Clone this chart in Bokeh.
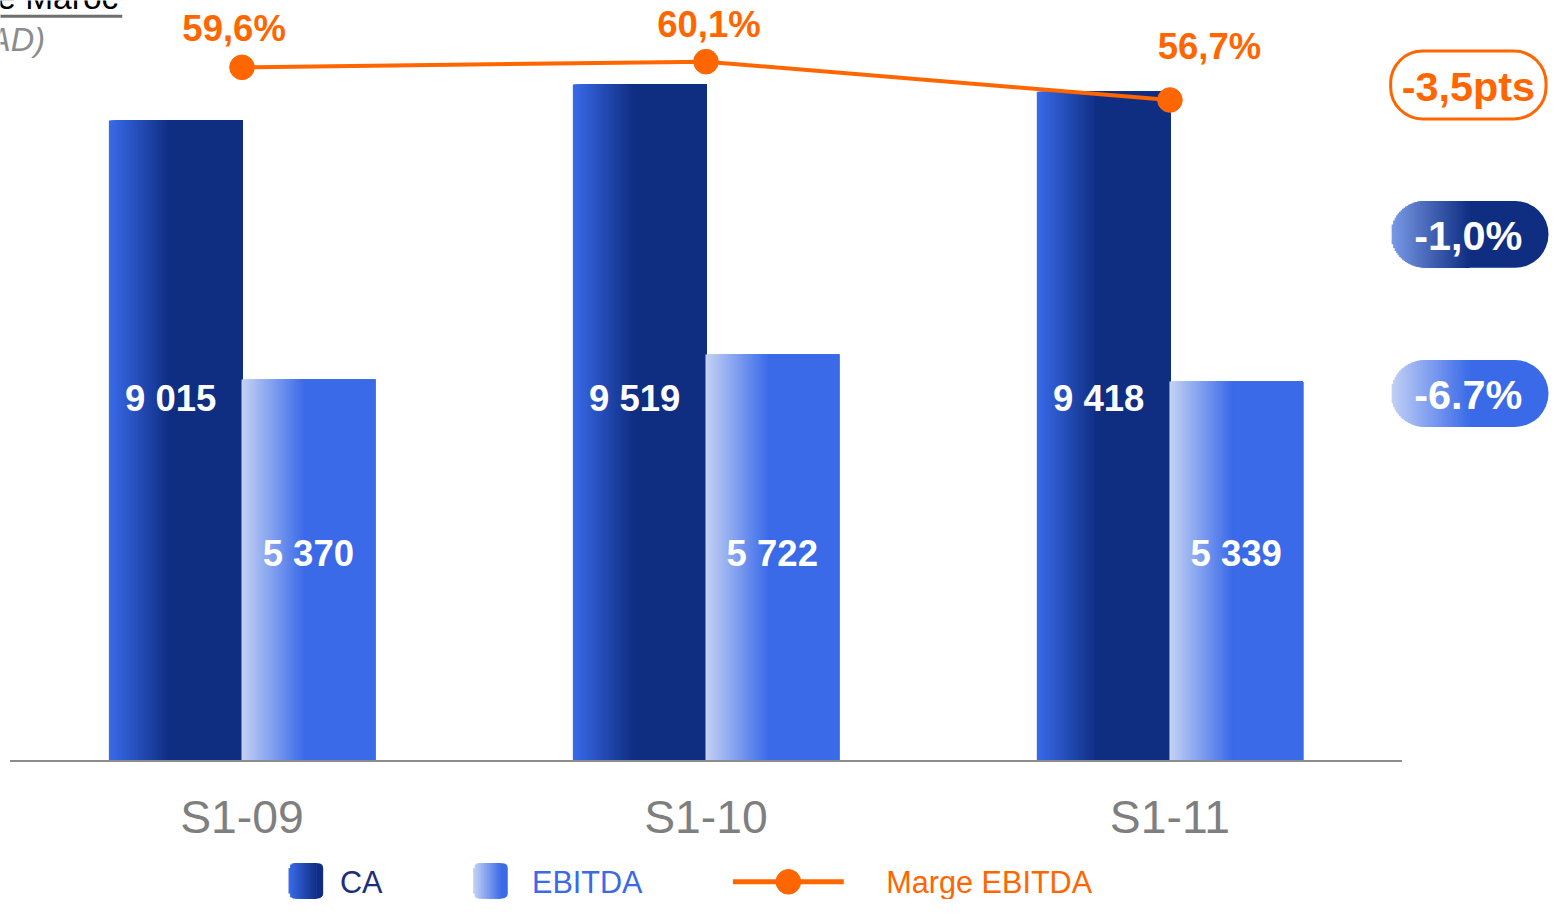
import math
from bokeh.plotting import figure
from bokeh.models import Range1d
from bokeh.core.properties import value
from bokeh.embed import file_html
from bokeh.resources import INLINE

# ---------------- data ----------------
categories = ["S1-09", "S1-10", "S1-11"]
ca = [9015, 9519, 9418]
ebitda = [5370, 5722, 5339]
marge = [59.6, 60.1, 56.7]
ca_labels = ["9 015", "9 519", "9 418"]
ebitda_labels = ["5 370", "5 722", "5 339"]
marge_labels = ["59,6%", "60,1%", "56,7%"]
badge_labels = ["-3,5pts", "-1,0%", "-6.7%"]
legend_labels = ["CA", "EBITDA", "Marge EBITDA"]
title_text = "Mobile Maroc"
unit_text = "(en millions de MAD)"

# ---------------- style ----------------
ORANGE = "#ff6600"
NAVY = "#0f2e82"
BLUE = "#3a6ae8"
LIGHT = "#c3d1f5"
MID = "#7a9ae8"
GRAY = "#7f7f7f"
FONT = value("Liberation Sans")

REF_W, REF_H = 1565, 915
W, H = 1549, 899
SX, SY = W / REF_W, H / REF_H
S = (SX + SY) / 2
PX_PER_CAT = 468.75     # reference px per category
PX_PER_VAL = 0.07232    # reference px per value unit
PCT_PX = 11.47          # reference px per margin point


def X(rx):
    return (rx - 244) / PX_PER_CAT


def Y(ry):
    return (774 - ry) / PX_PER_VAL


def fs(px):
    return "%.1fpx" % (px * S)


def hexrgb(c):
    c = c.lstrip("#")
    return tuple(int(c[i:i + 2], 16) for i in (0, 2, 4))


def mix(c0, c1, t):
    t = max(0.0, min(1.0, t))
    a, b = hexrgb(c0), hexrgb(c1)
    return "#%02x%02x%02x" % tuple(int(round(a[i] + (b[i] - a[i]) * t)) for i in range(3))


p = figure(width=W, height=H, output_backend="svg", toolbar_location=None,
           x_range=Range1d(X(0), X(REF_W)), y_range=Range1d(Y(REF_H), Y(0)),
           x_axis_type=None, y_axis_type=None, min_border=0,
           outline_line_color=None, background_fill_color="white")
p.grid.visible = False
p.extra_y_ranges = {"pct": Range1d(59.6 - (REF_H - 68) / PCT_PX, 59.6 + 68 / PCT_PX)}


def grad_bars(xc_list, tops, width, c0, c1, frac, n=45):
    xs, ws, ts, cols = [], [], [], []
    for xc, top in zip(xc_list, tops):
        left = xc - width / 2
        right = xc + width / 2
        gw = width * frac
        for i in range(n + 1):
            xi = left + gw * i / n
            xs.append((xi + right) / 2)
            ws.append(right - xi)
            ts.append(top)
            cols.append(mix(c0, c1, i / n))
    p.vbar(x=xs, width=ws, top=ts, bottom=0, fill_color=cols, line_color=None)


def pill(cx, cy, w, h, r, c0, c1, frac):
    """Gradient rounded box (reference px): solid right part + nested gradient strips."""
    left, right = cx - w / 2, cx + w / 2
    gw = w * frac
    rr = int(round(r * S))
    # solid right part with rounded right corners
    x0 = left + gw - 0.5
    p.rect(x=[X((x0 + right) / 2)], y=[Y(cy)], width=(right - x0) * SX, height=h * SY,
           width_units="screen", height_units="screen", fill_color=c1, line_color=None,
           border_radius=(0, rr, rr, 0))

    def hgt(d):
        if d < r:
            return h - 2 * (r - math.sqrt(max(r * r - (r - d) ** 2, 0)))
        return h

    n = max(int(gw / 1.5), 8)
    xs, ws, hs, cols = [], [], [], []
    for i in range(n + 1):
        xi = left + gw * i / n
        xe = left + gw
        if xe - xi < 0.6:
            continue
        xs.append(X((xi + xe) / 2))
        ws.append((xe - xi) * SX)
        hs.append(hgt(xi - left) * SY)
        cols.append(mix(c0, c1, i / n))
    p.rect(x=xs, y=[Y(cy)] * len(xs), width=ws, height=hs,
           width_units="screen", height_units="screen", fill_color=cols, line_color=None)


idx = list(range(len(categories)))
off = 67 / PX_PER_CAT
bw = 135 / PX_PER_CAT

# bars
grad_bars([i - off for i in idx], ca, bw, BLUE, NAVY, 0.45)
grad_bars([i + off for i in idx], ebitda, bw, LIGHT, BLUE, 0.47)

# baseline
p.segment(x0=[-0.5], y0=[0], x1=[2.5], y1=[0], line_color="#8c8c8c", line_width=2)

# bar value labels
p.text(x=[i - off - 5 / PX_PER_CAT for i in idx], y=[Y(405)] * 3, text=ca_labels,
       text_font=FONT, text_font_style="bold", text_font_size=fs(37),
       text_color="white", text_align="center", text_baseline="middle")
p.text(x=[i + off for i in idx], y=[Y(563)] * 3, text=ebitda_labels,
       text_font=FONT, text_font_style="bold", text_font_size=fs(37),
       text_color="white", text_align="center", text_baseline="middle")

# margin line
p.line(x=idx, y=marge, y_range_name="pct", line_color=ORANGE, line_width=4)
p.scatter(x=idx, y=marge, y_range_name="pct", size=25 * S, fill_color=ORANGE, line_color=ORANGE)
pct_dx = [-8 * SX, 3 * SX, 40 * SX]
pct_dy = [-40 * SY, -38 * SY, -54 * SY]
p.text(x=idx, y=marge, y_range_name="pct", text=marge_labels, x_offset=pct_dx, y_offset=pct_dy,
       text_font=FONT, text_font_style="bold", text_font_size=fs(37),
       text_color=ORANGE, text_align="center", text_baseline="middle")

# category labels
p.text(x=idx, y=[Y(831)] * 3, text=categories, text_font=FONT, text_font_size=fs(47),
       text_color=GRAY, text_align="center", text_baseline="middle")

# badges
p.rect(x=[X(1483)], y=[Y(86)], width=157 * SX, height=69 * SY, width_units="screen",
       height_units="screen", fill_color="white", line_color=ORANGE, line_width=3,
       border_radius=32)
pill(1484, 238, 160, 68, 34, MID, NAVY, 0.5)
pill(1484, 400, 160, 68, 34, LIGHT, BLUE, 0.5)
p.text(x=[X(1483)], y=[Y(88)], text=[badge_labels[0]], text_font=FONT, text_font_style="bold",
       text_font_size=fs(42), text_color=ORANGE, text_align="center", text_baseline="middle")
p.text(x=[X(1483), X(1483)], y=[Y(240), Y(402)], text=badge_labels[1:], text_font=FONT,
       text_font_style="bold", text_font_size=fs(42), text_color="white",
       text_align="center", text_baseline="middle")

# legend
pill(308.5, 896, 35, 36, 5, BLUE, NAVY, 0.8)
pill(495, 896, 35, 36, 5, LIGHT, BLUE, 0.8)
p.segment(x0=[X(740)], y0=[Y(897)], x1=[X(852)], y1=[Y(897)], line_color=ORANGE, line_width=5)
p.scatter(x=[X(796)], y=[Y(897)], size=25 * S, fill_color=ORANGE, line_color=ORANGE)
p.text(x=[X(343)], y=[Y(897)], text=[legend_labels[0]], text_font=FONT, text_font_size=fs(31),
       text_color="#1b2f7c", text_align="left", text_baseline="middle")
p.text(x=[X(537)], y=[Y(897)], text=[legend_labels[1]], text_font=FONT, text_font_size=fs(31),
       text_color=BLUE, text_align="left", text_baseline="middle")
p.text(x=[X(895)], y=[Y(897)], text=[legend_labels[2]], text_font=FONT, text_font_size=fs(31),
       text_color=ORANGE, text_align="left", text_baseline="middle")

# cropped title fragments (top-left, cut by the edge as in the reference)
p.text(x=[X(119)], y=[Y(-3)], text=[title_text], text_font=FONT, text_font_size=fs(34),
       text_color="black", text_align="right", text_baseline="middle")
p.segment(x0=[X(-5)], y0=[Y(16)], x1=[X(123)], y1=[Y(16)], line_color="#6e6e6e", line_width=3)
p.text(x=[X(45)], y=[Y(40)], text=[unit_text], text_font=FONT, text_font_size=fs(33),
       text_font_style="italic", text_color="#8c8c8c", text_align="right", text_baseline="middle")

open("out.html", "w").write(file_html(p, INLINE))
